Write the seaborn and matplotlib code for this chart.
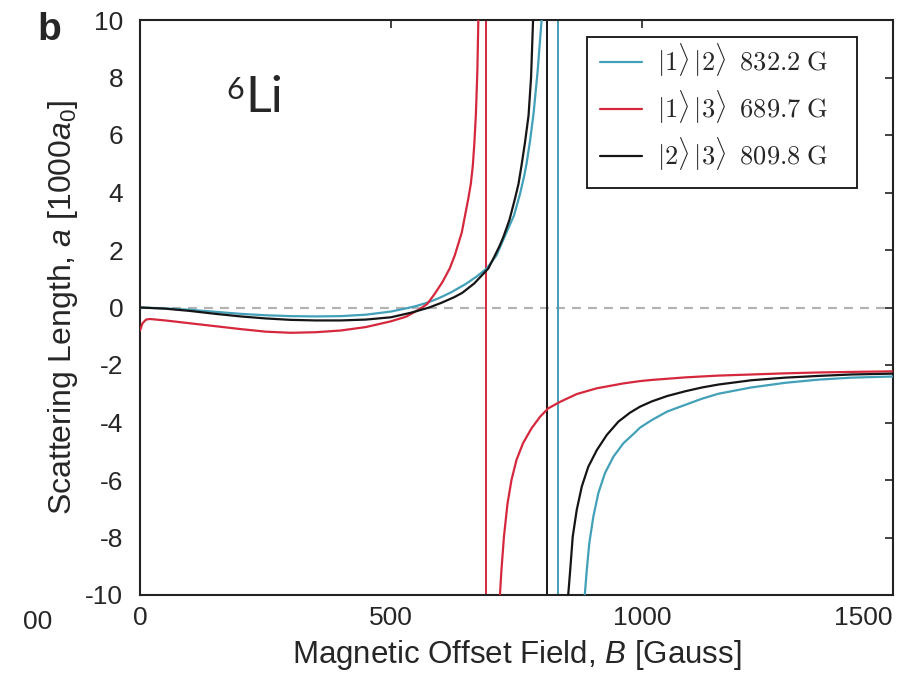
import numpy as np
import pandas as pd
import matplotlib
matplotlib.use("Agg")
import matplotlib.pyplot as plt
from matplotlib.lines import Line2D
from matplotlib.patches import Rectangle
from matplotlib.font_manager import FontProperties
import seaborn as sns

# ---------------- data ----------------
series_names = ["12", "13", "23"]
legend_labels = [r"$|1\rangle\,|2\rangle\;\;832.2\;\mathrm{G}$",
                 r"$|1\rangle\,|3\rangle\;\;689.7\;\mathrm{G}$",
                 r"$|2\rangle\,|3\rangle\;\;809.8\;\mathrm{G}$"]
resonance_B = [832.2, 689.7, 809.8]

# |1>|2>
B12_low = [0, 50, 100, 150, 200, 250, 300, 350, 400, 450, 500, 530, 550, 576, 596,
           620, 649, 670, 691, 710, 730, 745, 757, 765, 770, 777, 784, 792, 800]
a12_low = [0.0, -0.03, -0.08, -0.15, -0.22, -0.27, -0.30, -0.31, -0.30, -0.25, -0.14,
           -0.03, 0.05, 0.19, 0.33, 0.53, 0.82, 1.07, 1.36, 1.81, 2.61, 3.20, 3.95,
           4.55, 5.00, 5.80, 6.75, 8.20, 10.0]
B12_high = [886, 890, 895, 903, 913, 926, 943, 963, 983, 996, 1019, 1050, 1087, 1120,
            1152, 1218, 1285, 1351, 1417, 1500]
a12_high = [-10.0, -9.13, -8.2, -7.28, -6.46, -5.77, -5.19, -4.72, -4.40, -4.18, -3.92,
            -3.62, -3.38, -3.17, -3.0, -2.78, -2.62, -2.51, -2.44, -2.40]

# |1>|3>
B13_low = [0, 5, 12, 20, 50, 100, 150, 200, 250, 300, 350, 400, 450, 500, 530, 556,
           572, 586, 602, 617, 627, 641, 654, 659, 663, 666, 669, 672, 674]
a13_low = [-0.80, -0.55, -0.42, -0.40, -0.45, -0.55, -0.65, -0.75, -0.84, -0.88, -0.86,
           -0.80, -0.68, -0.48, -0.32, -0.07, 0.12, 0.45, 0.87, 1.36, 1.81, 2.61, 3.79,
           4.30, 4.94, 5.70, 6.68, 8.20, 10.0]
B13_high = [717, 720, 725, 732, 740, 750, 763, 780, 797, 813, 837, 870, 910, 963, 996,
            1019, 1087, 1150, 1218, 1285, 1351, 1420, 1500]
a13_high = [-10.0, -9.13, -7.97, -6.83, -6.0, -5.30, -4.72, -4.20, -3.80, -3.51, -3.28,
            -3.01, -2.81, -2.64, -2.56, -2.52, -2.43, -2.37, -2.33, -2.29, -2.26, -2.24,
            -2.22]

# |2>|3>
B23_low = [0, 50, 100, 150, 200, 250, 300, 350, 400, 450, 500, 540, 576, 600, 626, 642,
           666, 694, 707, 716, 724, 736, 747, 754, 760, 767, 774, 779, 783]
a23_low = [0.0, -0.04, -0.12, -0.22, -0.31, -0.38, -0.43, -0.45, -0.45, -0.42, -0.34,
           -0.18, 0.0, 0.16, 0.36, 0.51, 0.84, 1.36, 1.81, 2.13, 2.46, 3.05, 3.79, 4.30,
           4.94, 5.75, 6.68, 8.0, 10.0]
B23_high = [853, 857, 862, 870, 880, 893, 910, 930, 953, 976, 996, 1019, 1050, 1087, 1120,
            1152, 1218, 1285, 1351, 1417, 1500]
a23_high = [-10.0, -9.13, -7.97, -7.04, -6.23, -5.54, -4.96, -4.43, -3.97, -3.66, -3.45,
            -3.27, -3.08, -2.91, -2.78, -2.68, -2.53, -2.44, -2.38, -2.33, -2.3]

x_ticks = [0, 500, 1000, 1500]
y_ticks = [-10, -8, -6, -4, -2, 0, 2, 4, 6, 8, 10]

colors = {"12": "#42a0b8", "13": "#d6283d", "23": "#151515"}

rows = []
for name, branches in [("12", [(B12_low, a12_low), (B12_high, a12_high)]),
                       ("13", [(B13_low, a13_low), (B13_high, a13_high)]),
                       ("23", [(B23_low, a23_low), (B23_high, a23_high)])]:
    for bi, (bx, ay) in enumerate(branches):
        for b, a in zip(bx, ay):
            rows.append({"series": name, "branch": f"{name}_{bi}", "B": b, "a": a})
df = pd.DataFrame(rows)

# ---------------- style ----------------
sns.set_style("white")
plt.rcParams["font.family"] = ["Liberation Sans", "DejaVu Sans"]
plt.rcParams["mathtext.fontset"] = "custom"
plt.rcParams["mathtext.rm"] = "Liberation Sans"
plt.rcParams["mathtext.it"] = "Liberation Sans:italic"
plt.rcParams["lines.solid_capstyle"] = "round"
plt.rcParams["lines.solid_joinstyle"] = "round"

fig = plt.figure(figsize=(9.02, 6.75), dpi=100)
L, R, T, Bt = 140, 893, 20, 595
ax = fig.add_axes([L / 902, 1 - Bt / 675, (R - L) / 902, (Bt - T) / 675])


def ax_xy(px, py):
    return (px - L) / (R - L), (Bt - py) / (Bt - T)


ax.axhline(0, color="#b3b3b3", lw=1.6, ls=(0, (4.0, 3.2)), zorder=1)
for name, b0 in zip(series_names, resonance_B):
    ax.axvline(b0, color=colors[name], lw=1.4, zorder=2)

sns.lineplot(data=df, x="B", y="a", hue="series", units="branch", estimator=None,
             sort=False, palette=colors, hue_order=series_names, lw=1.6,
             legend=False, ax=ax, zorder=3)

ax.set_xlim(0, 1500)
ax.set_ylim(-10, 10)
ax.set_xticks(x_ticks)
ax.set_yticks(y_ticks)
ax.set_xticklabels([str(v) for v in x_ticks])
ax.set_yticklabels([str(v) for v in y_ticks])
ax.get_xticklabels()[-1].set_horizontalalignment("right")
ax.tick_params(direction="in", length=6, width=1.2, top=True, right=True,
               labelsize=19, color="#222222")
ax.tick_params(axis="y", pad=12)
ax.tick_params(axis="x", pad=8)
for s in ax.spines.values():
    s.set_color("#222222")
    s.set_linewidth(1.5)

ax.set_xlabel(r"Magnetic Offset Field, $B$ [Gauss]", fontsize=22.5, labelpad=6)
ax.set_ylabel(r"Scattering Length, $a$ [1000$a_0$]", fontsize=23, labelpad=4)

# legend: frame drawn as a box, entries placed by the legend
x0, y0 = ax_xy(587, 188)
x1, y1 = ax_xy(857, 37)
ax.add_patch(Rectangle((x0, y0), x1 - x0, y1 - y0, transform=ax.transAxes,
                       facecolor="white", edgecolor="#111111", lw=1.3, zorder=5,
                       clip_on=False))
handles = [Line2D([0], [0], color=colors[n], lw=1.6) for n in series_names]
fp = FontProperties(size=19, math_fontfamily="cm")
leg = ax.legend(handles, legend_labels, loc="upper left",
                bbox_to_anchor=ax_xy(600, 41.5),
                borderaxespad=0, prop=fp, frameon=False, handlelength=1.6,
                handletextpad=0.55, labelspacing=0.38, borderpad=0)
leg.set_zorder(6)

fig.text(49 / 902, 1 - 30 / 675, "b", fontsize=28, fontweight="bold",
         ha="center", va="center")
fig.text(245 / 902, 1 - 112 / 675, "Li", fontsize=36, family="Lato",
         ha="left", va="baseline")
fig.text(244 / 902, 1 - 99 / 675, "6", fontsize=22, family="Lato",
         ha="right", va="baseline")
fig.text(52 / 902, 1 - 622 / 675, "00", fontsize=19, ha="right", va="center")

fig.savefig("out.png", dpi=100)
